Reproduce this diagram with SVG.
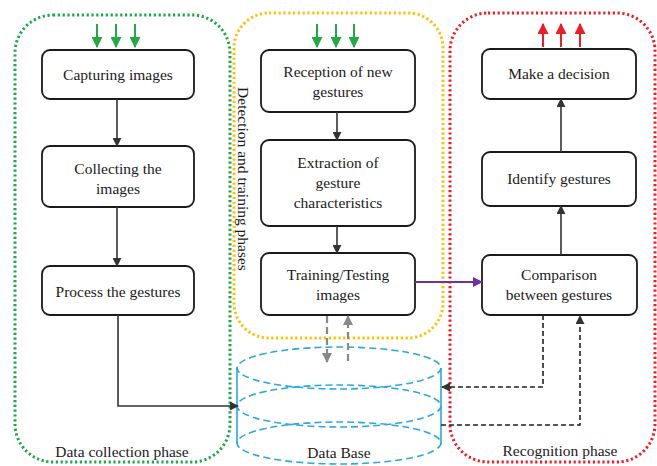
<svg xmlns="http://www.w3.org/2000/svg" width="657" height="466" viewBox="0 0 657 466">
  <style>
    .node rect { fill: #fff; stroke: #1a1a1a; stroke-width: 1.8; }
    text { font-family: "Liberation Serif", "Times New Roman", "DejaVu Serif", serif; font-size: 15.5px; fill: #1a1a1a; text-anchor: middle; }
    .phase { fill: none; stroke-width: 3; stroke-dasharray: 2.2 2.6; }
    .flow { fill: none; stroke: #333; stroke-width: 1.6; }
    .dash { fill: none; stroke: #222; stroke-width: 1.6; stroke-dasharray: 5 3; }
    .db { fill: none; stroke: #29a8e0; stroke-width: 1.6; stroke-dasharray: 7 4; }
  </style>
  <defs>
    <marker id="ah" viewBox="0 0 10 10" refX="9" refY="5" markerWidth="9" markerHeight="9" markerUnits="userSpaceOnUse" orient="auto">
      <path d="M0,0 L10,5 L0,10 z" fill="#333"/>
    </marker>
    <marker id="ahg" viewBox="0 0 10 10" refX="9" refY="5" markerWidth="11" markerHeight="11" markerUnits="userSpaceOnUse" orient="auto">
      <path d="M0,0 L10,5 L0,10 z" fill="#22aa44"/>
    </marker>
    <marker id="ahr" viewBox="0 0 10 10" refX="9" refY="5" markerWidth="11" markerHeight="11" markerUnits="userSpaceOnUse" orient="auto">
      <path d="M0,0 L10,5 L0,10 z" fill="#ee1c24"/>
    </marker>
    <marker id="ahp" viewBox="0 0 10 10" refX="9" refY="5" markerWidth="10" markerHeight="10" markerUnits="userSpaceOnUse" orient="auto">
      <path d="M0,0 L10,5 L0,10 z" fill="#7030a0"/>
    </marker>
    <marker id="ahgr" viewBox="0 0 10 10" refX="9" refY="5" markerWidth="10" markerHeight="10" markerUnits="userSpaceOnUse" orient="auto">
      <path d="M0,0 L10,5 L0,10 z" fill="#888"/>
    </marker>
  </defs>

  <!-- phase frames -->
  <g id="phases">
    <rect class="phase" x="15" y="15" width="215" height="447" rx="38" stroke="#1aa84a"/>
    <rect class="phase" x="234" y="13" width="209" height="325" rx="35" stroke="#ffc000"/>
    <rect class="phase" x="450" y="13" width="205" height="449" rx="38" stroke="#ee1c24"/>
    <text x="122" y="457">Data collection phase</text>
    <text x="560" y="456">Recognition phase</text>
    <text transform="translate(238,179) rotate(90)">Detection and training phases</text>
  </g>

  <!-- database cylinder -->
  <g id="database">
    <ellipse class="db" cx="339" cy="368" rx="102" ry="21"/>
    <ellipse class="db" cx="339" cy="406" rx="102" ry="21"/>
    <ellipse class="db" cx="339" cy="443" rx="102" ry="21"/>
    <line x1="237" y1="368" x2="237" y2="444" stroke="#29a8e0" stroke-width="1.6"/>
    <line x1="441" y1="368" x2="441" y2="444" stroke="#29a8e0" stroke-width="1.6"/>
    <text x="339" y="458">Data Base</text>
  </g>

  <!-- data collection -->
  <g id="capturing" class="node">
    <rect x="42" y="50" width="152" height="49" rx="8"/>
    <text x="118" y="80">Capturing images</text>
  </g>
  <g id="collecting" class="node">
    <rect x="42" y="146" width="152" height="61" rx="8"/>
    <text x="118" y="174">Collecting the</text>
    <text x="118" y="194">images</text>
  </g>
  <g id="process" class="node">
    <rect x="42" y="266" width="152" height="49" rx="8"/>
    <text x="118" y="297">Process the gestures</text>
  </g>

  <!-- detection and training -->
  <g id="reception" class="node">
    <rect x="261" y="50" width="154" height="62" rx="8"/>
    <text x="338" y="77">Reception of new</text>
    <text x="338" y="97">gestures</text>
  </g>
  <g id="extraction" class="node">
    <rect x="261" y="140" width="154" height="86" rx="8"/>
    <text x="338" y="168">Extraction of</text>
    <text x="338" y="188">gesture</text>
    <text x="338" y="208">characteristics</text>
  </g>
  <g id="training" class="node">
    <rect x="261" y="253" width="154" height="62" rx="8"/>
    <text x="338" y="280">Training/Testing</text>
    <text x="338" y="300">images</text>
  </g>

  <!-- recognition -->
  <g id="decision" class="node">
    <rect x="482" y="49" width="154" height="50" rx="8"/>
    <text x="559" y="79">Make a decision</text>
  </g>
  <g id="identify" class="node">
    <rect x="482" y="152" width="154" height="54" rx="8"/>
    <text x="559" y="184">Identify gestures</text>
  </g>
  <g id="comparison" class="node">
    <rect x="482" y="255" width="155" height="60" rx="8"/>
    <text x="559" y="280">Comparison</text>
    <text x="559" y="300">between gestures</text>
  </g>

  <!-- connectors -->
  <g id="connectors">
    <!-- inputs / outputs -->
    <line x1="97" y1="24" x2="97" y2="47" stroke="#22aa44" stroke-width="2" marker-end="url(#ahg)"/>
    <line x1="116" y1="24" x2="116" y2="47" stroke="#22aa44" stroke-width="2" marker-end="url(#ahg)"/>
    <line x1="135" y1="24" x2="135" y2="47" stroke="#22aa44" stroke-width="2" marker-end="url(#ahg)"/>
    <line x1="317" y1="24" x2="317" y2="47" stroke="#22aa44" stroke-width="2" marker-end="url(#ahg)"/>
    <line x1="336" y1="24" x2="336" y2="47" stroke="#22aa44" stroke-width="2" marker-end="url(#ahg)"/>
    <line x1="354" y1="24" x2="354" y2="47" stroke="#22aa44" stroke-width="2" marker-end="url(#ahg)"/>
    <line x1="543" y1="47" x2="543" y2="24" stroke="#ee1c24" stroke-width="2" marker-end="url(#ahr)"/>
    <line x1="561" y1="47" x2="561" y2="24" stroke="#ee1c24" stroke-width="2" marker-end="url(#ahr)"/>
    <line x1="580" y1="47" x2="580" y2="24" stroke="#ee1c24" stroke-width="2" marker-end="url(#ahr)"/>

    <!-- data collection flow -->
    <line class="flow" x1="117" y1="99" x2="117" y2="146" marker-end="url(#ah)"/>
    <line class="flow" x1="117" y1="207" x2="117" y2="266" marker-end="url(#ah)"/>
    <polyline class="flow" points="118,315 118,406 238,406" marker-end="url(#ah)"/>

    <!-- detection flow -->
    <line class="flow" x1="337" y1="112" x2="337" y2="140" marker-end="url(#ah)"/>
    <line class="flow" x1="337" y1="226" x2="337" y2="253" marker-end="url(#ah)"/>

    <!-- training to and from database -->
    <line x1="327" y1="316" x2="327" y2="362" stroke="#888" stroke-width="2.2" stroke-dasharray="7 4" marker-end="url(#ahgr)"/>
    <line x1="348" y1="361" x2="348" y2="316" stroke="#888" stroke-width="2.2" stroke-dasharray="7 4" marker-end="url(#ahgr)"/>

    <!-- training to comparison -->
    <line x1="415" y1="282" x2="482" y2="282" stroke="#7030a0" stroke-width="1.8" marker-end="url(#ahp)"/>

    <!-- recognition flow -->
    <line class="flow" x1="561" y1="255" x2="561" y2="206" marker-end="url(#ah)"/>
    <line class="flow" x1="561" y1="152" x2="561" y2="99" marker-end="url(#ah)"/>

    <!-- comparison and database -->
    <polyline class="dash" points="543,315 543,387 442,387" marker-end="url(#ah)"/>
    <polyline class="dash" points="441,425 580,425 580,316" marker-end="url(#ah)"/>
  </g>
</svg>
